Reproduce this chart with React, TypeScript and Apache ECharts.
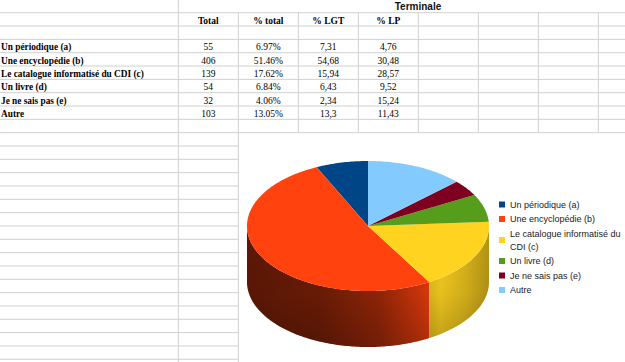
import React, { useEffect, useRef } from 'react';
import * as echarts from 'echarts';

// ---- data ----
const categories = [
  'Un périodique (a)',
  'Une encyclopédie (b)',
  'Le catalogue informatisé du CDI (c)',
  'Un livre (d)',
  'Je ne sais pas (e)',
  'Autre',
];
const totals = [55, 406, 139, 54, 32, 103];
const pctTotal = ['6.97%', '51.46%', '17.62%', '6.84%', '4.06%', '13.05%'];
const pctLGT = ['7,31', '54,68', '15,94', '6,43', '2,34', '13,3'];
const pctLP = ['4,76', '30,48', '28,57', '9,52', '15,24', '11,43'];
const headers = ['Total', '% total', '% LGT', '% LP'];
const groupTitle = 'Terminale';
const sliceColors = ['#004586', '#ff420e', '#ffd320', '#579d1c', '#7e0021', '#83caff'];

// ---- layout ----
const W = 625;
const H = 362;
const ROW0 = 12.7;
const ROW_H = 13.33;
const COL0 = 178.3;
const COL_W = 60;
const CHART_TOP = 132.7;
const CHART_LEFT = 238.3;
const PIE = { cx: 368, cy: 226, rx: 121, ry: 65, depth: 56 };
const SERIF = '"Liberation Serif", "Times New Roman", serif';
const SANS = '"Liberation Sans", Arial, sans-serif';

const SHADE_STOPS: [number, number][] = [
  [0, 0.36], [0.3, 0.42], [0.55, 0.58], [0.72, 0.82], [0.8, 0.95], [0.9, 0.85], [1, 0.7],
];

function shade(hex: string, f: number) {
  const n = parseInt(hex.slice(1), 16);
  const c = (v: number) => Math.max(0, Math.min(255, Math.round(v * f)));
  return `rgb(${c((n >> 16) & 255)},${c((n >> 8) & 255)},${c(n & 255)})`;
}

function pt(theta: number, dy: number): number[] {
  return [PIE.cx - PIE.rx * Math.sin(theta), PIE.cy - PIE.ry * Math.cos(theta) + dy];
}

function arc(a: number, b: number, dy: number): number[][] {
  const n = Math.max(2, Math.ceil(Math.abs(b - a) / (Math.PI / 180)));
  const out: number[][] = [];
  for (let i = 0; i <= n; i++) out.push(pt(a + ((b - a) * i) / n, dy));
  return out;
}

function buildTable(): any[] {
  const els: any[] = [];
  const line = '#d0d0d0';
  for (let k = 1; k <= 27; k++) {
    const y = ROW0 + ROW_H * (k - 1);
    const x2 = y > CHART_TOP + 1 ? CHART_LEFT : W;
    els.push({ type: 'line', silent: true, shape: { x1: 0, y1: y, x2, y2: y }, style: { stroke: line, lineWidth: 1 } });
  }
  for (let j = 0; j < 8; j++) {
    const x = COL0 + COL_W * j;
    const y1 = j === 0 ? 0 : ROW0;
    const y2 = j <= 1 ? H : CHART_TOP;
    els.push({ type: 'line', silent: true, shape: { x1: x, y1, x2: x, y2 }, style: { stroke: line, lineWidth: 1 } });
  }
  els.push({
    type: 'text', silent: true, x: 418, y: 6.5,
    style: { text: groupTitle, font: `bold 10px ${SANS}`, fill: '#111', align: 'center', verticalAlign: 'middle' },
  });
  headers.forEach((h, j) => {
    els.push({
      type: 'text', silent: true, x: COL0 + COL_W * (j + 0.5), y: ROW0 + ROW_H * 0.5 + 1.3,
      style: { text: h, font: `bold 9.5px ${SERIF}`, fill: '#000', align: 'center', verticalAlign: 'middle' },
    });
  });
  categories.forEach((c, r) => {
    const y = ROW0 + ROW_H * (2.5 + r) + 1.3;
    els.push({
      type: 'text', silent: true, x: 1, y,
      style: { text: c, font: `bold 9.3px ${SERIF}`, fill: '#000', align: 'left', verticalAlign: 'middle' },
    });
    const cols = [String(totals[r]), pctTotal[r], pctLGT[r], pctLP[r]];
    cols.forEach((v, j) => {
      els.push({
        type: 'text', silent: true, x: COL0 + COL_W * (j + 0.5), y,
        style: { text: v, font: `9.5px ${SERIF}`, fill: '#000', align: 'center', verticalAlign: 'middle' },
      });
    });
  });
  return els;
}

export default function App() {
  const ref = useRef<HTMLDivElement>(null);
  useEffect(() => {
    if (!ref.current) return;
    const chart = echarts.init(ref.current, undefined, { renderer: 'svg' });
    const sum = totals.reduce((a, b) => a + b, 0);
    const series = categories.map((name, i) => ({
      type: 'custom',
      name,
      coordinateSystem: 'none',
      data: [[totals[i]]],
      itemStyle: { color: sliceColors[i] },
      renderItem: () => {
        const before = totals.slice(0, i).reduce((a, b) => a + b, 0);
        const start = (before / sum) * Math.PI * 2;
        const end = ((before + totals[i]) / sum) * Math.PI * 2;
        const children: any[] = [];
        const a = Math.max(start, Math.PI / 2);
        const b = Math.min(end, Math.PI * 1.5);
        if (a < b) {
          const pts = arc(a, b, 0).concat(arc(b, a, PIE.depth));
          const stops = SHADE_STOPS.map(([u, f]) => ({ offset: u, color: shade(sliceColors[i], f) }));
          children.push({
            type: 'polygon',
            z2: 1,
            shape: { points: pts },
            style: {
              fill: new echarts.graphic.LinearGradient(PIE.cx - PIE.rx, 0, PIE.cx + PIE.rx, 0, stops, true),
            },
          });
          children.push({
            type: 'polygon',
            z2: 2,
            shape: { points: pts },
            style: {
              fill: new echarts.graphic.LinearGradient(
                0, PIE.cy, 0, PIE.cy + PIE.ry + PIE.depth,
                [
                  { offset: 0, color: 'rgba(0,0,0,0)' },
                  { offset: 0.55, color: 'rgba(0,0,0,0.04)' },
                  { offset: 1, color: 'rgba(0,0,0,0.22)' },
                ],
                true,
              ),
            },
          });
        }
        children.push({
          type: 'polygon',
          z2: 10,
          shape: { points: [[PIE.cx, PIE.cy]].concat(arc(start, end, 0)) },
          style: { fill: sliceColors[i] },
        });
        return { type: 'group', children };
      },
    }));
    chart.setOption({
      animation: false,
      graphic: { elements: buildTable() },
      legend: {
        data: categories,
        orient: 'vertical',
        left: 499,
        top: 198,
        padding: 0,
        icon: 'rect',
        itemWidth: 6,
        itemHeight: 6,
        itemGap: 1.5,
        selectedMode: false,
        formatter: (n: string) => n.replace(' CDI', '\nCDI'),
        textStyle: { fontFamily: SANS, fontSize: 9, color: '#1a1a1a', lineHeight: 13 },
      },
      series,
    } as any);
    return () => chart.dispose();
  }, []);
  return <div ref={ref} style={{ position: 'fixed', left: 0, top: 0, width: W, height: H, background: '#fff' }} />;
}
